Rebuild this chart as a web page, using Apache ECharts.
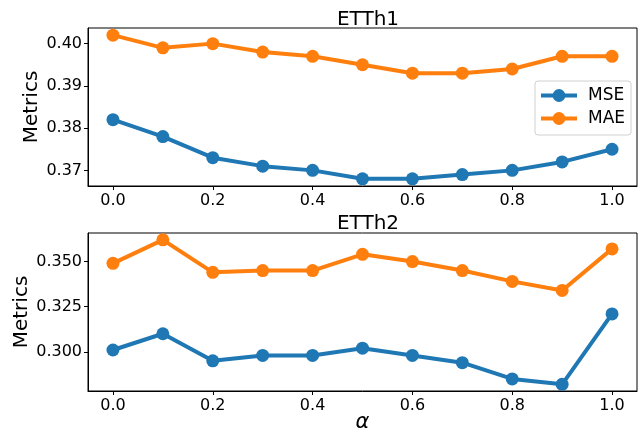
<!DOCTYPE html>
<html>
<head>
<meta charset="utf-8">
<script src="https://cdn.jsdelivr.net/npm/echarts@6/dist/echarts.min.js"></script>
<style>
  html, body { margin: 0; padding: 0; background: #fff; }
  #chart { width: 644px; height: 435px; }
</style>
</head>
<body>
<div id="chart"></div>
<script>
const alphas = ['0.0', '0.1', '0.2', '0.3', '0.4', '0.5', '0.6', '0.7', '0.8', '0.9', '1.0'];

const etth1Mse = [0.382, 0.378, 0.373, 0.371, 0.370, 0.368, 0.368, 0.369, 0.370, 0.372, 0.375];
const etth1Mae = [0.402, 0.399, 0.400, 0.398, 0.397, 0.395, 0.393, 0.393, 0.394, 0.397, 0.397];

const etth2Mse = [0.301, 0.310, 0.295, 0.298, 0.298, 0.302, 0.298, 0.294, 0.285, 0.282, 0.321];
const etth2Mae = [0.349, 0.362, 0.344, 0.345, 0.345, 0.354, 0.350, 0.345, 0.339, 0.334, 0.357];

const etth1Ticks = [0.37, 0.38, 0.39, 0.40];
const etth2Ticks = [0.300, 0.325, 0.350];

const BLUE = '#1f77b4';
const ORANGE = '#ff7f0e';
const FONT = 'DejaVu Sans';

function xAxis(idx, withName) {
  return {
    type: 'category',
    gridIndex: idx,
    data: alphas,
    boundaryGap: true,
    axisLine: { show: true, lineStyle: { color: '#000', width: 1 } },
    axisTick: { show: true, interval: 1, alignWithLabel: true, length: 4, lineStyle: { color: '#000' } },
    axisLabel: { interval: 1, color: '#000', fontFamily: FONT, fontSize: 16, margin: 7 },
    name: withName ? 'α' : '',
    nameLocation: 'middle',
    nameGap: 21,
    nameMoveOverlap: false,
    nameTextStyle: { color: '#000', fontFamily: FONT, fontSize: 21, fontStyle: 'italic' }
  };
}

function yAxis(idx, min, max, ticks, digits, gap) {
  return {
    type: 'value',
    gridIndex: idx,
    min: min,
    max: max,
    splitLine: { show: false },
    axisLine: { show: true, lineStyle: { color: '#000', width: 1 } },
    axisTick: { show: true, length: 4, customValues: ticks, lineStyle: { color: '#000' } },
    axisLabel: {
      customValues: ticks,
      color: '#000', fontFamily: FONT, fontSize: 16, margin: 6,
      formatter: v => Number(v).toFixed(digits)
    },
    name: 'Metrics',
    nameLocation: 'middle',
    nameGap: gap,
    nameMoveOverlap: false,
    nameTextStyle: { color: '#000', fontFamily: FONT, fontSize: 20 }
  };
}

function line(name, idx, data, color) {
  return {
    name: name,
    type: 'line',
    xAxisIndex: idx,
    yAxisIndex: idx,
    data: data,
    symbol: 'circle',
    symbolSize: 13,
    showSymbol: true,
    animation: false,
    itemStyle: { color: color },
    lineStyle: { color: color, width: 4 }
  };
}

const chart = echarts.init(document.getElementById('chart'));
chart.setOption({
  backgroundColor: '#fff',
  animation: false,
  title: [
    { text: 'ETTh1', left: 363, top: 5, textAlign: 'center',
      textStyle: { fontFamily: FONT, fontSize: 20, fontWeight: 'normal', color: '#000' } },
    { text: 'ETTh2', left: 363, top: 209, textAlign: 'center',
      textStyle: { fontFamily: FONT, fontSize: 20, fontWeight: 'normal', color: '#000' } }
  ],
  legend: {
    data: ['MSE', 'MAE'],
    orient: 'vertical',
    left: 535,
    top: 81,
    itemWidth: 36,
    itemHeight: 16,
    itemGap: 6,
    padding: [6, 6, 8, 4],
    backgroundColor: '#fff',
    borderColor: '#d0d0d0',
    borderWidth: 1,
    borderRadius: 3,
    lineStyle: { width: 4 },
    textStyle: { fontFamily: FONT, fontSize: 17, color: '#000', padding: [0, 0, 0, 6] }
  },
  grid: [
    { left: 88, right: 7, top: 28, height: 158, show: true, borderColor: '#000', borderWidth: 1, backgroundColor: 'transparent' },
    { left: 88, right: 7, top: 233, height: 158, show: true, borderColor: '#000', borderWidth: 1, backgroundColor: 'transparent' }
  ],
  xAxis: [xAxis(0, false), xAxis(1, true)],
  yAxis: [
    yAxis(0, 0.3663, 0.4037, etth1Ticks, 2, 46),
    yAxis(1, 0.2783, 0.3658, etth2Ticks, 3, 56)
  ],
  series: [
    line('MSE', 0, etth1Mse, BLUE),
    line('MAE', 0, etth1Mae, ORANGE),
    line('MSE', 1, etth2Mse, BLUE),
    line('MAE', 1, etth2Mae, ORANGE)
  ]
});
</script>
</body>
</html>
